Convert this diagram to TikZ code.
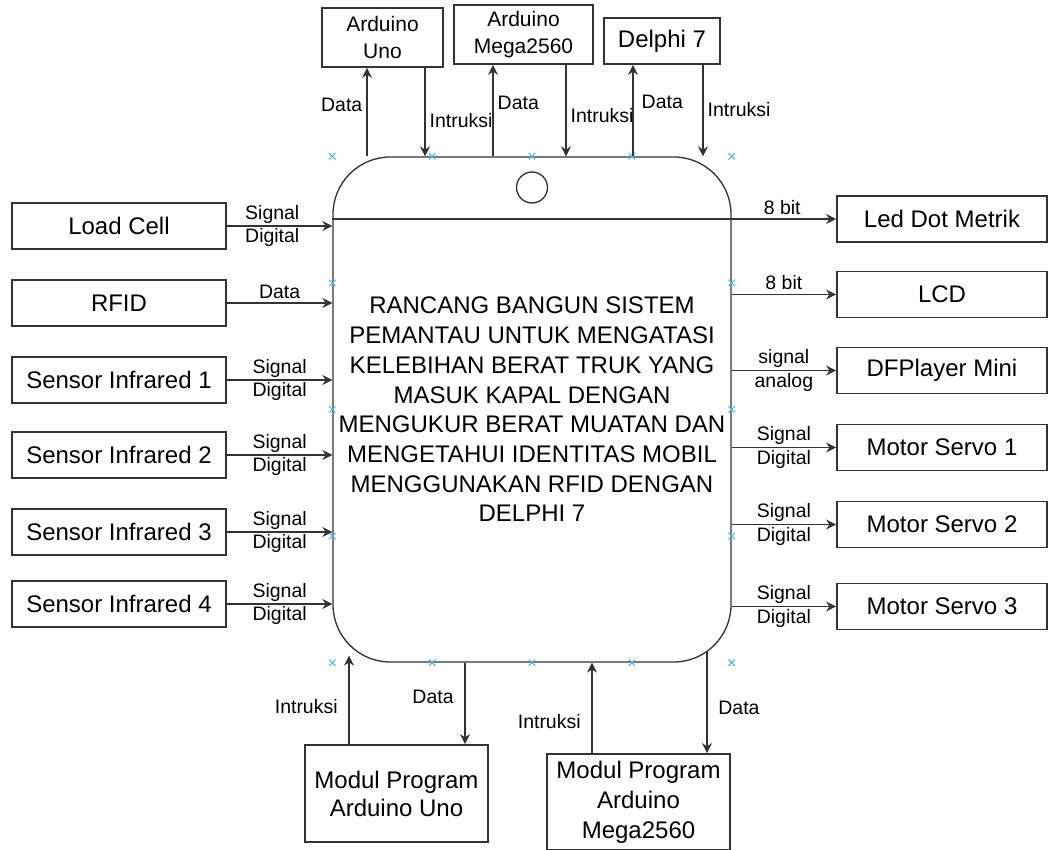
\documentclass[tikz,border=0pt]{standalone}
\usepackage{fontspec}
\setmainfont{Liberation Sans}
\usetikzlibrary{positioning,arrows.meta,calc,shapes.misc}
\definecolor{garis}{HTML}{333333}
\definecolor{biru}{HTML}{4DB8F0}

\begin{document}
\begin{tikzpicture}[>={Stealth[length=7.5pt,width=7.5pt,inset=2.5pt]},x=0.75pt,y=-0.75pt,
  blok/.style={draw=garis,line width=1.4pt,align=center,inner sep=1pt,
    font=\fontsize{18}{21}\selectfont},
  panah/.style={->,draw=garis,line width=1.1pt},
  ket/.style={font=\fontsize{14.6}{17.5}\selectfont,align=center,inner sep=2pt},
  tanda/.style={draw=biru,cross out,line width=0.8pt,minimum size=4pt,inner sep=0pt}]
  \def\u{0.75pt}   % 1 px
  \useasboundingbox (0,0) rectangle (1048,849);
  % blok utama
  \node[draw=garis,line width=1pt,rounded corners=43pt,minimum width=398*\u,minimum height=505*\u,
    align=center,font=\fontsize{18}{22.3}\selectfont] (sistem) at (532,409.5)
    {RANCANG BANGUN SISTEM\\PEMANTAU UNTUK MENGATASI\\KELEBIHAN BERAT TRUK YANG\\MASUK KAPAL DENGAN\\
     MENGUKUR BERAT MUATAN DAN\\MENGETAHUI IDENTITAS MOBIL\\MENGGUNAKAN RFID DENGAN\\DELPHI 7};
  \node[draw=garis,line width=1pt,circle,minimum size=31*\u,inner sep=0pt] (lensa) at (532,187.5) {};
  % titik seleksi
  \foreach \i in {0,0.25,0.5,0.75,1} {
    \node[tanda] at ($(sistem.north west)!\i!(sistem.north east)$) {};
    \node[tanda] at ($(sistem.south west)!\i!(sistem.south east)$) {};
  }
  \foreach \i in {0.25,0.5,0.75} {
    \node[tanda] at ($(sistem.north west)!\i!(sistem.south west)$) {};
    \node[tanda] at ($(sistem.north east)!\i!(sistem.south east)$) {};
  }
  % masukan (kiri)
  \foreach \nama/\teks/\y in {load/Load Cell/226,rfid/RFID/303,ir1/Sensor Infrared 1/380,
      ir2/Sensor Infrared 2/455,ir3/Sensor Infrared 3/532,ir4/Sensor Infrared 4/604}
    \node[blok,minimum width=214*\u,minimum height=46*\u] (\nama) at (119,\y) {\teks};
  \draw[panah] (load.east) -- (load.east -| sistem.west) node[pos=.43,ket] {Signal\\Digital};
  \draw[panah] (rfid.east) -- (rfid.east -| sistem.west) node[midway,above=1pt,ket] {Data};
  \foreach \nama in {ir1,ir2,ir3,ir4}
    \draw[panah] (\nama.east) -- (\nama.east -| sistem.west) node[midway,ket] {Signal\\Digital};
  % keluaran (kanan)
  \foreach \nama/\teks/\y in {led/Led Dot Metrik/219,lcd/LCD/294.5,dfp/DFPlayer Mini/370.5,
      ms1/Motor Servo 1/447.5,ms2/Motor Servo 2/524.5,ms3/Motor Servo 3/606.5}
    \node[blok,minimum width=210*\u,minimum height=46*\u] (\nama) at (942,\y) {\teks};
  \draw[panah] (sistem.west |- led) -- (led.west) node[pos=.893,above=1pt,ket] {8 bit};
  \draw[panah] (sistem.east |- lcd) -- (lcd.west) node[midway,above=1pt,ket] {8 bit};
  \draw[panah] (sistem.east |- dfp) -- (dfp.west) node[midway,ket] {signal\\analog};
  \foreach \nama in {ms1,ms2,ms3}
    \draw[panah] (sistem.east |- \nama) -- (\nama.west) node[midway,ket] {Signal\\Digital};
  % atas
  \node[blok,minimum width=121*\u,minimum height=59*\u,font=\fontsize{15.75}{19.8}\selectfont]
    (uno) at (382.5,37.5) {Arduino\\Uno};
  \node[blok,minimum width=139*\u,minimum height=59*\u,font=\fontsize{15.75}{19.8}\selectfont]
    (mega) at (523.5,34.5) {Arduino\\Mega2560};
  \node[blok,minimum width=116*\u,minimum height=46*\u] (delphi) at (662,41) {Delphi 7};
  \coordinate (unoD) at ([xshift=-15.5*\u]uno.south);
  \coordinate (unoI) at ([xshift=42.5*\u]uno.south);
  \coordinate (megaD) at ([xshift=-30.5*\u]mega.south);
  \coordinate (megaI) at ([xshift=42.5*\u]mega.south);
  \coordinate (delD) at ([xshift=-29*\u]delphi.south);
  \coordinate (delI) at ([xshift=41*\u]delphi.south);
  \draw[panah] (sistem.north -| unoD) -- (unoD) node[pos=.58,left=1pt,ket] {Data};
  \draw[panah] (unoI) -- (sistem.north -| unoI) node[pos=.6,right=1pt,ket] {Intruksi};
  \draw[panah] (sistem.north -| megaD) -- (megaD) node[pos=.59,right=1pt,ket] {Data};
  \draw[panah] (megaI) -- (sistem.north -| megaI) node[pos=.55,right=1pt,ket] {Intruksi};
  \draw[panah] (sistem.north -| delD) -- (delD) node[pos=.6,right=4pt,ket] {Data};
  \draw[panah] (delI) -- (sistem.north -| delI) node[pos=.49,right=1pt,ket] {Intruksi};
  % bawah
  \node[blok,minimum width=183*\u,minimum height=97*\u] (modUno) at (396.5,793.5) {Modul Program\\Arduino Uno};
  \node[blok,minimum width=183*\u,minimum height=96*\u,font=\fontsize{18}{22.5}\selectfont]
    (modMega) at (638.5,802) {Modul Program\\Arduino\\Mega2560};
  \coordinate (muI) at ([xshift=-47.5*\u]modUno.north);
  \coordinate (muD) at ([xshift=68.5*\u]modUno.north);
  \coordinate (mmI) at ([xshift=-46.5*\u]modMega.north);
  \coordinate (mmD) at ([xshift=68.5*\u]modMega.north);
  \coordinate (ujungU) at ([yshift=7*\u]sistem.south);
  \coordinate (ujungD) at ([yshift=12*\u]sistem.south);
  \draw[panah] (muI) -- (ujungU -| muI) node[pos=.43,left=6pt,ket] {Intruksi};
  \draw[panah] (sistem.south -| muD) -- (muD) node[pos=.42,left=6pt,ket] {Data};
  \draw[panah] (mmI) -- (sistem.south -| mmI) node[pos=.35,left=6pt,ket] {Intruksi};
  \draw[panah] (ujungD -| mmD) -- (mmD) node[pos=.56,right=6pt,ket] {Data};
\end{tikzpicture}
\end{document}
